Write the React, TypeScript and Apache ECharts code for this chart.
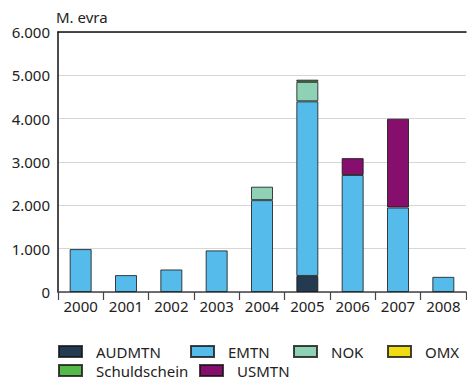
import React, { useEffect, useRef } from "react";
import * as echarts from "echarts";

const years = ["2000", "2001", "2002", "2003", "2004", "2005", "2006", "2007", "2008"];
const audmtn = [0, 0, 0, 0, 0, 370, 0, 0, 0];
const emtn = [990, 390, 520, 960, 2120, 4030, 2700, 1950, 350];
const nok = [0, 0, 0, 0, 310, 450, 0, 0, 0];
const omx = [0, 0, 0, 0, 0, 0, 0, 0, 0];
const schuldschein = [0, 0, 0, 0, 0, 50, 0, 0, 0];
const usmtn = [0, 0, 0, 0, 0, 0, 390, 2050, 0];
const yTicks = [0, 1000, 2000, 3000, 4000, 5000, 6000];

const FONT = "Noto Sans";
const TEXT = "#222";

const seriesDefs = [
  { name: "AUDMTN", data: audmtn, color: "#243a50" },
  { name: "EMTN", data: emtn, color: "#55bbea" },
  { name: "NOK", data: nok, color: "#8fd1b5" },
  { name: "OMX", data: omx, color: "#f0dc14" },
  { name: "Schuldschein", data: schuldschein, color: "#55b94a" },
  { name: "USMTN", data: usmtn, color: "#860f6e" },
];

// legend entries placed one by one: [name, left, top]
const legendSpots: [string, number, number][] = [
  ["AUDMTN", 58, 344],
  ["EMTN", 190, 344],
  ["NOK", 293, 344],
  ["OMX", 387, 344],
  ["Schuldschein", 58, 363],
  ["USMTN", 199, 363],
];

const fmt = (v: number) => (v === 0 ? "0" : v.toLocaleString("de-DE"));

export default function App() {
  const ref = useRef<HTMLDivElement>(null);
  useEffect(() => {
    if (!ref.current) return;
    const chart = echarts.init(ref.current, null, { renderer: "svg" });
    chart.setOption({
      animation: false,
      backgroundColor: "#fff",
      textStyle: { fontFamily: FONT },
      grid: { left: 58, top: 32, right: 1, bottom: 87 },
      xAxis: [
        {
          type: "category",
          data: years,
          position: "bottom",
          axisLine: { lineStyle: { color: "#444", width: 1.5 } },
          axisTick: { show: true, length: 8, lineStyle: { color: "#444", width: 1.2 } },
          axisLabel: { color: TEXT, fontSize: 15, margin: 6, fontFamily: FONT },
        },
        {
          type: "category",
          data: years,
          position: "top",
          axisLine: { lineStyle: { color: "#111", width: 1.5 } },
          axisTick: { show: false },
          axisLabel: { show: false },
        },
      ],
      yAxis: {
        type: "value",
        min: 0,
        max: yTicks[yTicks.length - 1],
        interval: 1000,
        name: "M. evra",
        nameLocation: "end",
        nameGap: 8,
        nameTextStyle: { color: TEXT, fontSize: 15, align: "left", padding: [0, 0, 0, -2], fontFamily: FONT },
        axisLine: { show: true, lineStyle: { color: "#111", width: 1.5 } },
        axisTick: { show: false },
        axisLabel: { color: TEXT, fontSize: 15, margin: 8, fontFamily: FONT, formatter: fmt },
        splitLine: { lineStyle: { color: "#d6d6d6", width: 1 } },
      },
      legend: legendSpots.map(([name, left, top]) => ({
        data: [name],
        left,
        top,
        padding: 0,
        icon: "rect",
        itemWidth: 23,
        itemHeight: 11,
        selectedMode: false,
        textStyle: { color: TEXT, fontSize: 15, fontFamily: FONT, padding: [0, 0, 0, 9] },
      })),
      series: seriesDefs.map((s) => ({
        name: s.name,
        type: "bar",
        stack: "total",
        barWidth: 22,
        data: s.data.map((v) => (v === 0 ? "-" : v)),
        itemStyle: { color: s.color, borderColor: "rgba(20,20,20,0.8)", borderWidth: 1 },
      })),
    });
    return () => chart.dispose();
  }, []);
  return <div ref={ref} style={{ width: 467, height: 379, position: "absolute", left: 0, top: 0 }} />;
}
